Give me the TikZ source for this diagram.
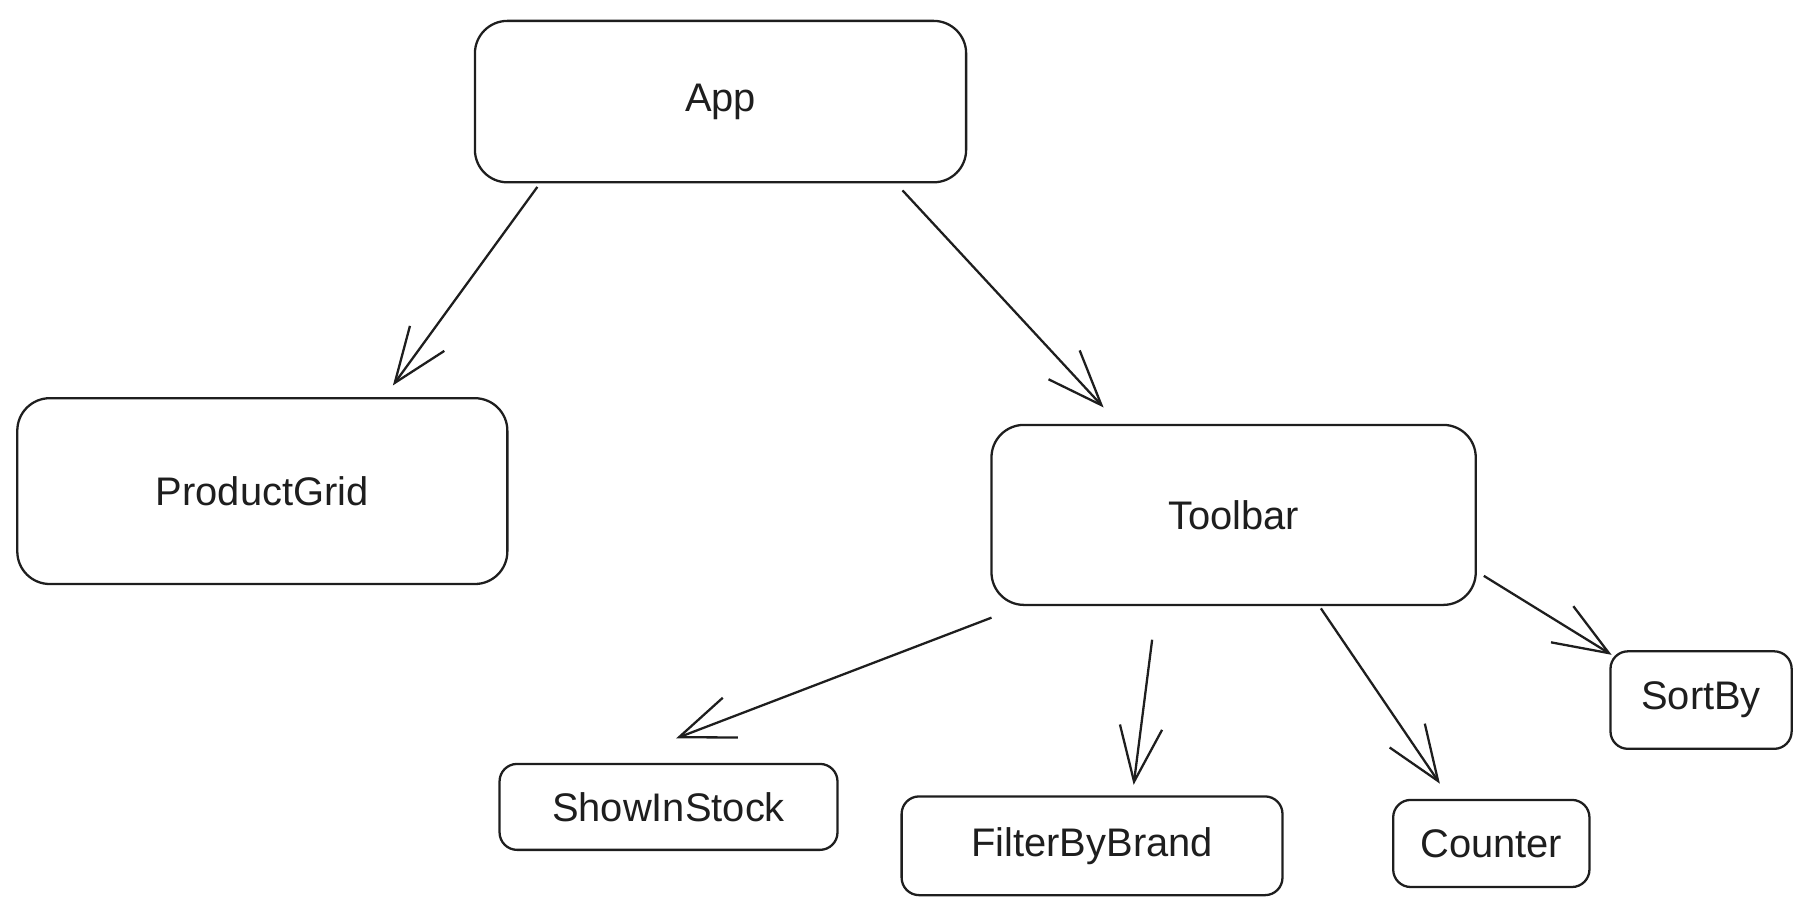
\documentclass[tikz,border=0pt]{standalone}
\usepackage{fontspec}
\setmainfont{Liberation Sans}
\usepackage{tikz}
\usetikzlibrary{arrows.meta, calc}
\definecolor{ink}{HTML}{1E1E1E}

\begin{document}
\begin{tikzpicture}[x=0.02311cm, y=-0.02323cm,
    bigBox/.style={draw=ink, line width=1.3pt, rounded corners=0.65cm, inner sep=0pt, text=ink, font=\fontsize{22.7}{27}\selectfont},
    smallBox/.style={bigBox, rounded corners=0.35cm},
    link/.style={draw=ink, line width=1.3pt, -{Straight Barb[length=1.1cm, width=0.85cm]}}]
\useasboundingbox (0,0) rectangle (1568,785);

\node[bigBox, minimum width=9.826cm, minimum height=3.229cm] (app) at (623.5,87.5) {App};
\node[bigBox, minimum width=9.803cm, minimum height=3.717cm] (productGrid) at (227,423) {ProductGrid};
\node[bigBox, minimum width=9.687cm, minimum height=3.601cm] (toolbar) at (1067.5,443.5) {Toolbar};

\node[smallBox, minimum width=6.760cm, minimum height=1.719cm] (showInStock) at (578.5,695) {ShowInStock};
\node[smallBox, minimum width=7.619cm, minimum height=1.975cm] (filterByBrand) at (945,728.5) {FilterByBrand};
\node[smallBox, minimum width=3.926cm, minimum height=1.742cm] (counter) at (1290.5,726.5) {Counter};
\node[smallBox, minimum width=3.624cm, minimum height=1.951cm] (sortBy) at (1472,603) {SortBy};

\draw[link] ($(app.south)+(-158.5,3)$) -- ($(productGrid.north)+(113,-10)$);
\draw[link] ($(app.south)+(157.5,6)$) -- ($(toolbar.north)+(-112.5,-14)$);

\draw[link] ($(toolbar.south west)+(1,10)$) -- ($(showInStock.north)+(6.5,-21)$);
\draw[link] ($(toolbar.south)+(-70.5,29)$) -- ($(filterByBrand.north)+(36,-9)$);
\draw[link] ($(toolbar.south)+(75.5,2)$) -- ($(counter.north)+(-44.5,-13)$);
\draw[link] ($(toolbar.south east)+(6,-26)$) -- ($(sortBy.north west)+(2,4)$);

\end{tikzpicture}
\end{document}
